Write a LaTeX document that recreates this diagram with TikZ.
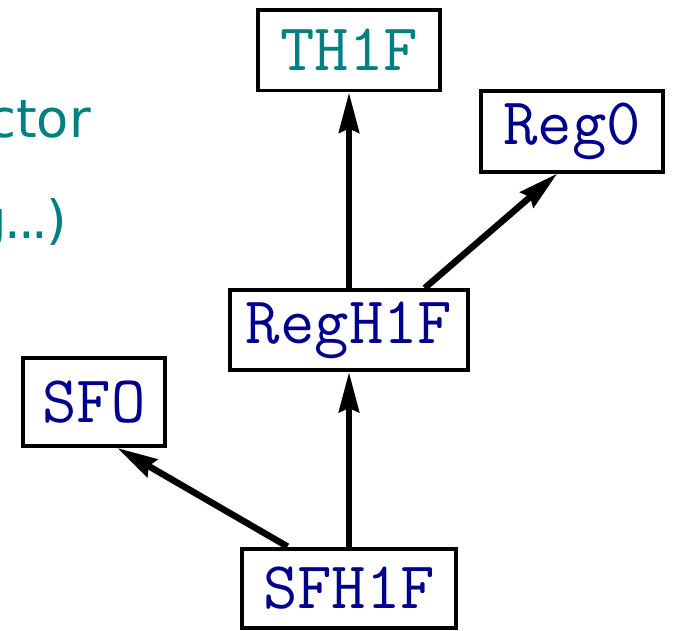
\documentclass[tikz,border=0pt]{standalone}
\usepackage{fontspec}
\newfontfamily\notefont{DejaVu Sans}
\usepackage{tikz}
\usetikzlibrary{arrows.meta}
\definecolor{clsnavy}{RGB}{0,0,140}
\definecolor{clsteal}{RGB}{0,128,128}

\begin{document}
\begin{tikzpicture}[x=0.02cm, y=-0.02cm, ->, >={Stealth[length=0.8cm, width=0.4cm, inset=0.08cm]}, line width=0.13cm,
		cls/.style={draw, line width=0.08cm, fill=white, inner sep=0pt, minimum height=1.62cm,
			font=\ttfamily\fontsize{38}{42}\selectfont, text=clsnavy},
		note/.style={font=\notefont\fontsize{30}{34}\selectfont, text=clsteal, anchor=base east}]
				\useasboundingbox (0,0) rectangle (673,630);
				\clip (0,0) rectangle (673,630);

				% cut-off side text
				\node[note] (CTOR) at (100,137) {ctor};
				\node[note] (ETC)  at (76,238) {g\kern-1pt.\kern-2pt.\kern-2pt.\kern-1pt)};

				% classes
				\node[cls, text=clsteal, minimum width=3.64cm] (TH1F)  at (349,50)  {TH1F};
				\node[cls, minimum width=3.64cm]               (REG0)  at (572,131) {Reg0};
				\node[cls, minimum width=4.76cm, minimum height=1.6cm] (REGH) at (349,330) {RegH1F};
				\node[cls, minimum width=2.84cm, minimum height=1.76cm] (SFO) at (94,402) {SFO};
				\node[cls, minimum width=4.3cm, minimum height=1.58cm]  (SFH) at (349,588) {SFH1F};

				\path	(REGH.north)	edge	(TH1F.south)
						(REGH.29)		edge	(REG0.251)
						(SFH.north)		edge	(REGH.south)
						(SFH.146)		edge	(SFO.297);
\end{tikzpicture}
\end{document}
